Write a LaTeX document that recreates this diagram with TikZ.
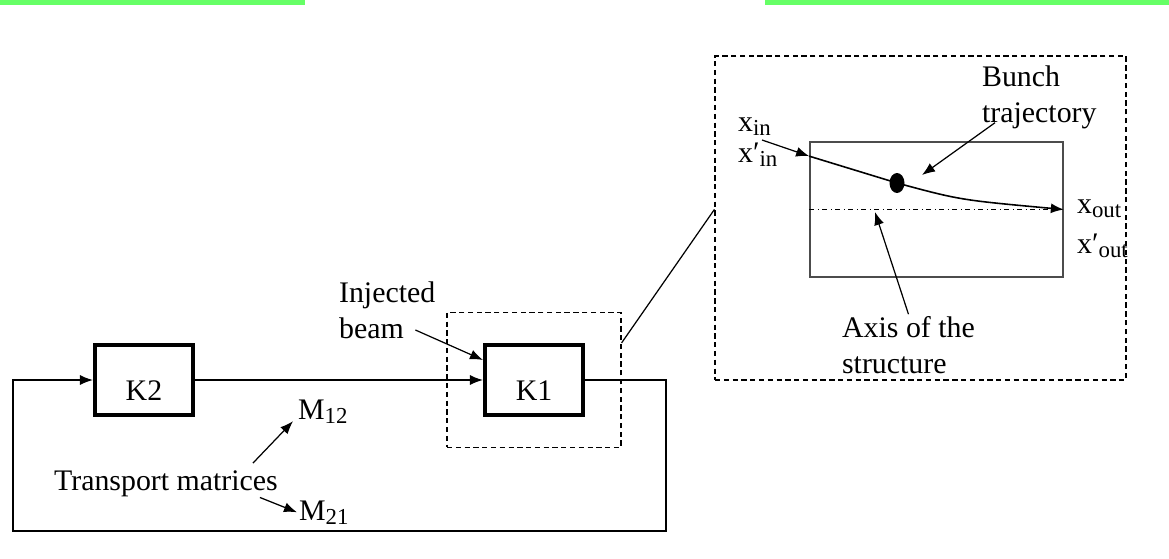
\documentclass[tikz,border=0pt]{standalone}
\usepackage{fontspec}
\setmainfont{Liberation Serif}
\usetikzlibrary{positioning,calc,arrows.meta,shapes.geometric}
\definecolor{barcolor}{HTML}{66FF66}
\newcommand{\lowsub}[1]{\raisebox{-0.3ex}{\fontsize{13}{13}\selectfont #1}}

\begin{document}
\begin{tikzpicture}[
  x=0.02cm, y=-0.02cm,
  font=\fontsize{17}{20.5}\selectfont, >={Latex[length=2.6mm,width=2mm]},
  every node/.style={inner sep=1pt},
  kbox/.style={draw, line width=2.3pt, minimum width=1.96cm, minimum height=1.4cm,
    text height=0.8cm, text depth=0pt},
  loopline/.style={line width=0.8pt},
  zoombox/.style={draw, line width=0.7pt, dash pattern=on 3pt off 2pt},
  ptr/.style={->, line width=0.7pt}
]
  \useasboundingbox (0,0) rectangle (1169,558);
  \fill[barcolor] (0,0) rectangle (305,5);
  \fill[barcolor] (765,0) rectangle (1169,5);

  % ring with the two kickers
  \node[kbox] (k2) at (144,380) {K2};
  \node[kbox] (k1) at (534,380) {K1};
  \draw[loopline,->] (k2.east) -- (k1.west);
  \draw[loopline,->] (k1.east) -- ++(81,0) -- ++(0,151) -| ($(k2.west)+(-80,0)$) -- (k2.west);

  \node[align=left, anchor=west] (inj) at (337,310) {Injected\\beam};
  \draw[ptr] ($(inj.east)+(-22,20)$) -- ($(k1.north west)+(0,17)$);

  \node[anchor=base west] (tm) at (52,490) {Transport matrices};
  \node[anchor=base west] (m12) at (296,419) {M\lowsub{12}};
  \node[anchor=base west] (m21) at (297,520) {M\lowsub{21}};
  \draw[ptr] ($(tm.north east)+(-27,-5)$) -- ($(m12.south west)+(-3,-4)$);
  \draw[ptr] ($(tm.south east)+(-20,-1)$) -- (m21.west);

  % zoom on K1
  \node[zoombox, minimum width=3.48cm, minimum height=2.7cm] (focus) at (534,380) {};
  \node[zoombox, minimum width=8.22cm, minimum height=6.48cm] (zoom) at (920.5,218) {};
  \draw[line width=0.7pt] ($(focus.north east)+(0,31)$) -- ($(zoom.north west)+(0,154)$);

  \node[draw=black!70, line width=1pt, minimum width=5.06cm, minimum height=2.7cm] (struct) at (936.5,209.5) {};
  \draw[dash dot, line width=0.4pt] (struct.west) -- (struct.east);

  \node[ellipse, fill, minimum width=0.3cm, minimum height=0.4cm, inner sep=0pt] (dot) at (897,183) {};
  \coordinate (tin) at (762,140);
  \draw[ptr] (tin) -- ($(struct.north west)+(0,15)$);
  \draw[ptr, line width=0.9pt] ($(struct.north west)+(0,15)$) -- (dot.center) .. controls (960,200) .. (struct.east);

  \node[anchor=base west] (xin) at (736,131) {x\lowsub{in}};
  \node[anchor=base west] (xpin) at (736,162) {x′\lowsub{in}};
  \node[anchor=base west] (xout) at (1075,213) {x\lowsub{out}};
  \node[anchor=base west] (xpout) at (1075,253) {x′\lowsub{out}};

  \node[align=left, anchor=west] (bunch) at (980,97) {Bunch\\trajectory};
  \draw[ptr] ($(bunch.south west)+(15,-8)$) -- ($(dot)+(25,-8)$);

  \node[align=left, anchor=west] (axis) at (840,345) {Axis of the\\structure};
  \coordinate (axpt) at (875,212);
  \draw[ptr] (axis.north) -- (axpt);
\end{tikzpicture}
\end{document}
